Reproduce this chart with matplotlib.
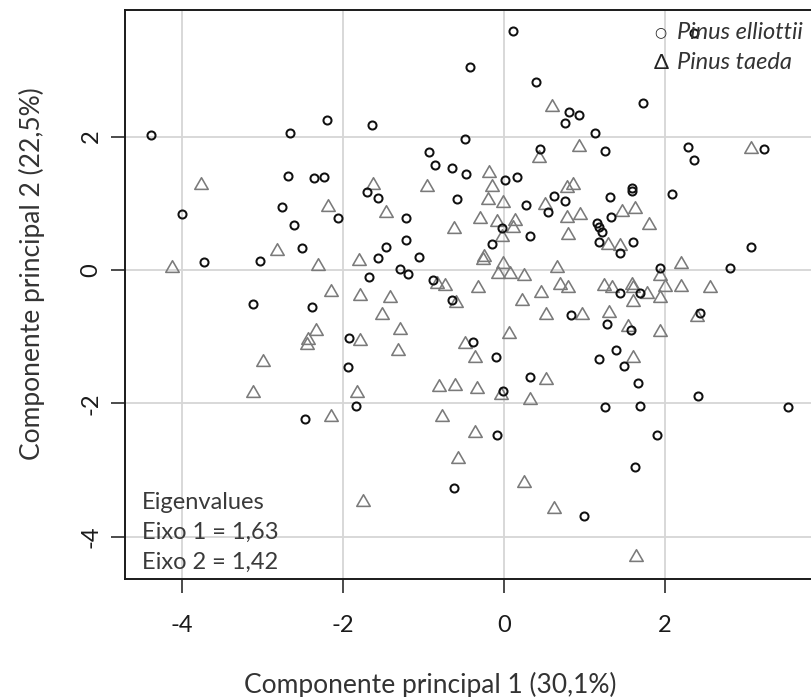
import matplotlib
matplotlib.use("Agg")
import matplotlib.pyplot as plt
from matplotlib.path import Path

plt.rcParams['font.family'] = ['Lato', 'DejaVu Sans']

# Escores dos componentes principais
elliottii_x = [-4.39, -2.66, -2.20, -2.68, -2.36, -2.23, -2.76, -4.00, -2.06, -2.61,
               -2.51, -3.73, -3.03, -3.12, -2.38, -1.92, -1.94, -2.47, -1.84, 0.11,
               -0.42, 0.40, 0.81, 0.94, 0.76, -1.64, -0.48, 0.45, -0.93, -0.85,
               -0.64, -0.47, 0.01, 0.16, -1.70, -1.56, -0.58, 0.28, 0.62, 0.76,
               -1.21, -0.02, 0.33, -0.15, 0.55, -1.21, -1.47, -1.56, -1.06, -1.29,
               -1.19, -1.68, -0.88, -0.64, 0.84, -0.38, -0.10, 0.33, -0.01, -0.08,
               -0.62, 2.36, 1.73, 1.13, 1.26, 2.29, 2.37, 3.23, 1.60, 1.59,
               1.32, 2.09, 1.33, 1.16, 1.18, 1.22, 1.18, 1.44, 1.61, 3.07,
               2.81, 1.94, 1.45, 1.69, 1.28, 1.58, 2.44, 1.40, 1.18, 1.49,
               1.67, 2.42, 1.26, 1.69, 3.54, 1.91, 1.63, 1.00]
elliottii_y = [2.03, 2.05, 2.25, 1.41, 1.38, 1.39, 0.95, 0.84, 0.78, 0.68,
               0.33, 0.12, 0.14, -0.51, -0.56, -1.02, -1.46, -2.23, -2.04, 3.58,
               3.05, 2.82, 2.37, 2.32, 2.20, 2.18, 1.97, 1.82, 1.77, 1.58,
               1.53, 1.44, 1.35, 1.39, 1.17, 1.08, 1.06, 0.97, 1.11, 1.04,
               0.78, 0.63, 0.51, 0.39, 0.87, 0.45, 0.35, 0.18, 0.20, 0.02,
               -0.06, -0.10, -0.15, -0.45, -0.68, -1.08, -1.30, -1.61, -1.81, -2.47,
               -3.27, 3.55, 2.50, 2.06, 1.78, 1.84, 1.65, 1.81, 1.23, 1.19,
               1.10, 1.14, 0.79, 0.70, 0.65, 0.57, 0.42, 0.25, 0.42, 0.34,
               0.03, 0.03, -0.35, -0.35, -0.81, -0.90, -0.65, -1.20, -1.34, -1.44,
               -1.70, -1.89, -2.06, -2.04, -2.06, -2.47, -2.95, -3.69]

taeda_x = [-3.76, -2.18, -2.82, -2.31, -4.12, -2.15, -2.34, -2.43, -2.45, -3.00,
           -3.12, -2.15, 0.60, 0.94, 0.44, -0.18, -0.15, -0.95, -1.63, -0.19,
           -0.01, 0.51, 0.78, 0.86, -1.47, -0.30, -0.09, 0.14, 0.11, -0.02,
           -0.62, 0.80, 0.78, 0.95, -1.80, -0.26, -0.25, -0.01, -0.07, 0.08,
           0.25, 0.66, -0.83, -0.73, -0.32, -1.79, -1.42, -0.59, 0.23, 0.46,
           0.70, 0.80, 0.53, 0.97, -1.52, -1.29, 0.06, -1.79, -0.48, -1.32,
           -0.36, 0.53, -0.80, -0.61, -0.33, -0.03, -1.82, 0.33, -0.77, -0.36,
           -0.57, -1.75, 0.25, 0.62, 3.08, 1.47, 1.63, 1.80, 1.30, 1.44,
           2.20, 1.94, 1.25, 1.34, 1.59, 1.61, 1.78, 2.00, 2.20, 1.94,
           2.56, 1.61, 1.31, 1.55, 2.40, 1.94, 1.61, 1.65]
taeda_y = [1.28, 0.95, 0.29, 0.06, 0.03, -0.33, -0.91, -1.05, -1.13, -1.38,
           -1.85, -2.21, 2.44, 1.85, 1.68, 1.46, 1.25, 1.25, 1.28, 1.05,
           1.00, 0.98, 1.23, 1.28, 0.86, 0.77, 0.72, 0.74, 0.63, 0.50,
           0.62, 0.53, 0.78, 0.83, 0.14, 0.15, 0.20, 0.09, -0.06, -0.06,
           -0.09, 0.03, -0.21, -0.24, -0.27, -0.39, -0.42, -0.50, -0.47, -0.35,
           -0.23, -0.27, -0.68, -0.68, -0.68, -0.90, -0.96, -1.07, -1.11, -1.21,
           -1.32, -1.65, -1.75, -1.74, -1.78, -1.87, -1.85, -1.95, -2.20, -2.45,
           -2.84, -3.48, -3.20, -3.59, 1.81, 0.87, 0.92, 0.68, 0.38, 0.36,
           0.09, -0.09, -0.24, -0.27, -0.23, -0.27, -0.36, -0.25, -0.25, -0.42,
           -0.27, -0.48, -0.65, -0.85, -0.70, -0.93, -1.32, -4.30]

ticks = [-4, -2, 0, 2]
tick_labels = ['-4', '-2', '0', '2']
x_label = 'Componente principal 1 (30,1%)'
y_label = 'Componente principal 2 (22,5%)'
eigen_lines = ['Eigenvalues', 'Eixo 1 = 1,63', 'Eixo 2 = 1,42']
species = ['Pinus elliottii', 'Pinus taeda']

W, H = 811, 697
fig = plt.figure(figsize=(W / 100, H / 100), dpi=100)
# eixo vai um pouco além da borda direita (imagem original cortada)
ax = fig.add_axes([125 / W, (H - 579) / H, 690 / W, 569 / H])

# triângulo equilátero fechado, centrado no baricentro (pch=2 do R)
tri = Path([(-1, -0.577), (1, -0.577), (0, 1.155), (-1, -0.577)], closed=True)

ax.plot(taeda_x, taeda_y, linestyle='none', marker=tri, ms=11.2,
        mfc='none', mec='#7a7a7a', mew=1.15, zorder=3)
ax.plot(elliottii_x, elliottii_y, linestyle='none', marker='o', ms=5.8,
        mfc='none', mec='#111111', mew=1.45, zorder=4)

ax.set_xlim(-4.71, 3.87)
ax.set_ylim(-4.636, 3.90)
ax.set_xticks(ticks)
ax.set_xticklabels(tick_labels)
ax.set_yticks(ticks)
ax.set_yticklabels(tick_labels, rotation=90, va='center')
ax.grid(True, color='#d6d6d6', lw=1.3)
ax.set_axisbelow(True)
ax.tick_params(axis='both', direction='out', length=10, width=1.1,
               labelsize=17, colors='#1a1a1a')
ax.tick_params(axis='x', pad=16)
ax.tick_params(axis='y', pad=7)
for sp in ax.spines.values():
    sp.set_linewidth(1.4)
    sp.set_color('#1a1a1a')


def px(x, y):
    return x / W, 1 - y / H


# rótulos dos eixos
fig.text(*px(430, 685), x_label, ha='center', va='center',
         fontsize=19, color='#333333')
fig.text(*px(32, 274), y_label, ha='center', va='center', rotation=90,
         fontsize=19, color='#333333')

# autovalores
for i, line in enumerate(eigen_lines):
    fig.text(*px(142, 509 + 29.7 * i), line, ha='left', va='baseline',
             fontsize=17, color='#3a3a3a')

# legenda
fig.text(*px(660, 32.5), '○', ha='center', va='center', fontsize=10,
         color='#222222', family=['DejaVu Sans'])
fig.text(*px(661, 69.3), 'Δ', ha='center', va='baseline', fontsize=16,
         color='#222222')
fig.text(*px(677, 39.3), species[0], ha='left', va='baseline', fontsize=17,
         style='italic', color='#333333')
fig.text(*px(677, 69.3), species[1], ha='left', va='baseline', fontsize=17,
         style='italic', color='#333333')

fig.savefig('out.png', dpi=100)
